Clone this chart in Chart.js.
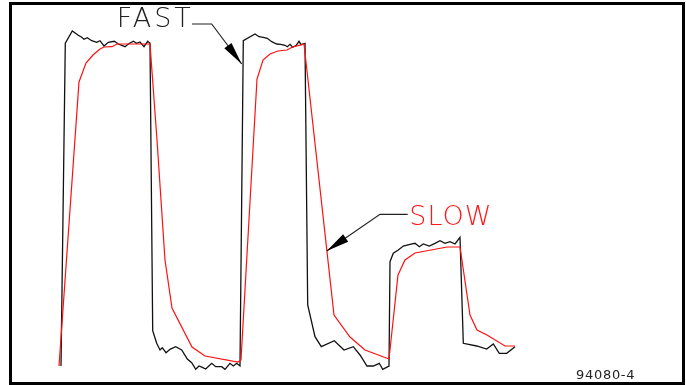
<!DOCTYPE html>
<html>
<head>
<meta charset="utf-8">
<script src="https://cdn.jsdelivr.net/npm/chart.js@4.4.1/dist/chart.umd.min.js"></script>
<style>
  html, body { margin: 0; padding: 0; background: #fff; }
  #wrap { position: relative; width: 686px; height: 385px; overflow: hidden; }
  #chart_root { position: absolute; left: 0; top: 0; }
  #frame {
    position: absolute; left: 9px; top: 2px; width: 676px; height: 383px;
    box-sizing: border-box; border: 3px solid #000; pointer-events: none;
  }
</style>
</head>
<body>
<div id="wrap">
  <canvas id="chart_root" width="686" height="385"></canvas>
  <div id="frame"></div>
</div>
<script>
// time (arbitrary units) and response level
const fastTime = [1, 5.3, 12.3, 18.3, 21.7, 24, 27.3, 31.7, 36.7, 40, 44, 48.3, 54.3, 58.3, 65, 68.3, 73.3, 76.7, 80, 84, 87.7, 90,
  92.7, 96.7, 100, 102.3, 106, 110, 115.7, 121.7, 127.3, 131.7, 135.7, 139, 142.3, 145.7, 151.7, 155.7, 161.7, 165, 170, 173.3, 176.7, 180,
  183.3, 195, 199, 203.3, 207.3, 211.7, 216.7, 220.7, 225, 227.3, 230, 232.7, 236, 239, 241, 245,
  247.7, 255, 261.3, 274.3, 284, 293.3, 300, 307, 313.3, 319.3, 322.7, 329,
  330, 333.3, 338.3, 343.3, 350, 355, 359.3, 363.3, 369.3, 375, 380, 385, 390, 395, 400,
  403.3, 416.7, 426.7, 433.3, 439.3, 446.7, 455];
const fastLevel = [4, 326.7, 339, 334.7, 332.7, 330.7, 332.3, 329.3, 327.7, 329.3, 324, 327.7, 328.7, 326, 323.3, 326, 328.7, 326.7, 328, 323.3, 328.7, 326.7,
  39.3, 26.7, 20, 22.3, 17.3, 20.7, 23.3, 20, 11, 7.3, 0.7, 4, 2.7, 1, 6.7, 3.3, 3.3, 0.7, 6.7, 4, 6.7, 4,
  329.3, 336, 333.3, 332.7, 331.7, 328.3, 326, 325.7, 324.7, 323.3, 325.7, 322.7, 324.3, 328.7, 325.3, 326.7,
  65, 33.3, 23.3, 29.3, 20, 23.3, 15, 4, 4, 6.7, 0.7, 4,
  108.3, 116.7, 120, 124, 125.7, 126.7, 123.3, 126, 124, 126.7, 129.3, 126.7, 128.3, 126, 132.7,
  26.7, 24, 21, 26, 16.7, 16.7, 23.3];

const slowTime = [-1, 19, 26, 33, 40, 44, 52, 57, 90, 97, 105, 112, 132, 145, 178, 181,
  197, 203, 210, 218, 227, 233, 238, 244, 274, 290, 305, 329,
  338, 345, 355, 387, 400, 410, 417, 427, 445, 455];
const slowLevel = [4, 288, 307, 315, 321, 323, 323.3, 326, 326, 230, 110, 62, 23, 14, 8, 10,
  291, 310, 316, 319, 320, 323.3, 324.3, 326, 55, 33, 20, 11,
  95, 110, 117, 123, 123, 55, 40, 35, 24, 24];

// labels with their leader lines (last point is the arrow tip)
const labelTexts = ['FAST', 'SLOW'];
const labelAnchors = [[56.7, 342.7], [349.3, 145]];
const labelColors = ['#222', '#ff1a1a'];
const labelSpacing = ['3px', '1px'];
const leaderPaths = [
  [[132, 346], [151.7, 346], [181.7, 306]],
  [[347.7, 155.7], [320, 155.7], [266.7, 119]]
];
const figureId = '94080-4';

const toXY = (xs, ys) => xs.map((x, i) => ({ x, y: ys[i] }));

const annotate = {
  id: 'annotate',
  afterDatasetsDraw(chart) {
    const { ctx, scales: { x, y } } = chart;
    const px = (p) => [x.getPixelForValue(p[0]), y.getPixelForValue(p[1])];
    ctx.save();
    leaderPaths.forEach((path) => {
      const pts = path.map(px);
      ctx.strokeStyle = '#222';
      ctx.lineWidth = 1.2;
      ctx.beginPath();
      pts.forEach((p, i) => (i ? ctx.lineTo(p[0], p[1]) : ctx.moveTo(p[0], p[1])));
      ctx.stroke();
      const tip = pts[pts.length - 1];
      const prev = pts[pts.length - 2];
      const dx = tip[0] - prev[0], dy = tip[1] - prev[1];
      const len = Math.hypot(dx, dy);
      const ux = dx / len, uy = dy / len;
      const bx = tip[0] - ux * 23, by = tip[1] - uy * 23;
      ctx.fillStyle = '#000';
      ctx.beginPath();
      ctx.moveTo(tip[0], tip[1]);
      ctx.lineTo(bx - uy * 4.5, by + ux * 4.5);
      ctx.lineTo(bx + uy * 4.5, by - ux * 4.5);
      ctx.closePath();
      ctx.fill();
    });
    labelTexts.forEach((t, i) => {
      const [lx, ly] = px(labelAnchors[i]);
      ctx.font = '200 27px "DejaVu Sans", sans-serif';
      ctx.letterSpacing = labelSpacing[i];
      ctx.fillStyle = labelColors[i];
      ctx.textBaseline = 'alphabetic';
      ctx.fillText(t, lx, ly);
    });
    ctx.letterSpacing = '0.7px';
    ctx.font = '13px "DejaVu Sans", sans-serif';
    ctx.fillStyle = '#222';
    ctx.fillText(figureId, 576, 379);
    ctx.restore();
  }
};

new Chart(document.getElementById('chart_root'), {
  type: 'line',
  data: {
    datasets: [
      {
        label: 'SLOW',
        data: toXY(slowTime, slowLevel),
        borderColor: '#ff1010',
        borderWidth: 1.2,
        pointRadius: 0,
        tension: 0
      },
      {
        label: 'FAST',
        data: toXY(fastTime, fastLevel),
        borderColor: '#111',
        borderWidth: 1.3,
        pointRadius: 0,
        tension: 0
      }
    ]
  },
  options: {
    responsive: false,
    animation: false,
    devicePixelRatio: 1,
    layout: { padding: 0 },
    plugins: { legend: { display: false }, tooltip: { enabled: false } },
    scales: {
      x: { type: 'linear', min: -60, max: 626, display: false },
      y: { min: -15, max: 370, display: false }
    }
  },
  plugins: [annotate]
});
</script>
</body>
</html>
